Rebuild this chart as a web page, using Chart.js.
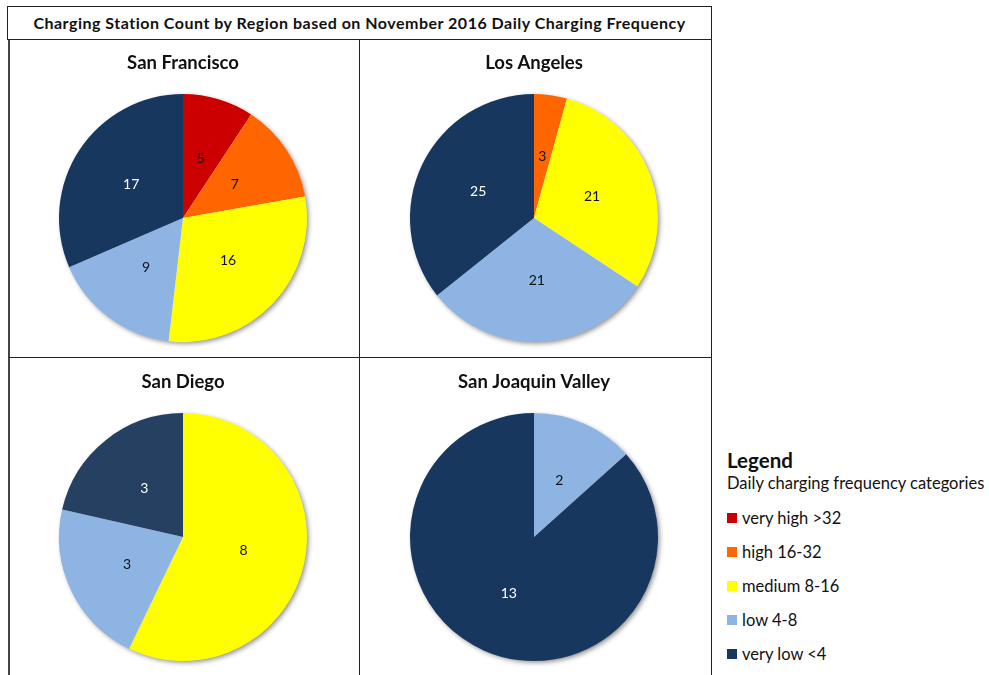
<!DOCTYPE html>
<html>
<head>
<meta charset="utf-8">
<script src="https://cdn.jsdelivr.net/npm/chart.js@4"></script>
<style>
  html, body { margin:0; padding:0; background:#fff; width:989px; height:675px; overflow:hidden; font-family: Lato, "Open Sans", sans-serif; }
  #title { position:absolute; left:7px; top:6px; width:703px; height:32px; border:1.5px solid #222; box-sizing:content-box;
           font-weight:bold; font-size:16px; letter-spacing:0.5px; text-align:center; line-height:32px; color:#111; }
  .cell { position:absolute; width:352px; height:318px; box-sizing:border-box; }
  #c0 { left:8px; top:40px; border-left:2px solid #444; border-right:1px solid #222; border-bottom:1px solid #222; }
  #c1 { left:360px; top:40px; border-right:1.5px solid #222; border-bottom:1px solid #222; }
  #c2 { left:8px; top:358px; border-left:2px solid #444; border-right:1px solid #222; }
  #c3 { left:360px; top:358px; border-right:1.5px solid #222; }
  .cell canvas { position:absolute; top:0; }
  #c0 canvas, #c2 canvas { left:-3px; }
  #c1 canvas, #c3 canvas { left:-2px; }
  #c2 canvas, #c3 canvas { top:1px; }
  #legend { position:absolute; left:727px; top:448px; color:#111; }
  #legend .h { font-weight:bold; font-size:20.5px; line-height:25px; }
  #legend .s { font-size:16.5px; line-height:20px; margin-bottom:8px; }
  #legend .it { font-size:16.5px; height:34px; line-height:20px; display:flex; align-items:center; }
  #legend .sw { width:10px; height:10px; margin-right:5px; display:inline-block; }
</style>
</head>
<body>
<div id="title">Charging Station Count by Region based on November 2016 Daily Charging Frequency</div>
<div class="cell" id="c0"></div>
<div class="cell" id="c1"></div>
<div class="cell" id="c2"></div>
<div class="cell" id="c3"></div>
<div id="legend">
  <div class="h">Legend</div>
  <div class="s">Daily charging frequency categories</div>
  <div id="items"></div>
</div>
<script>
// ---- data ----
const categories = ["very high >32", "high 16-32", "medium 8-16", "low 4-8", "very low <4"];
const regions = ["San Francisco", "Los Angeles", "San Diego", "San Joaquin Valley"];
const sanFrancisco = [5, 7, 16, 9, 17];
const losAngeles = [0, 3, 21, 21, 25];
const sanDiego = [0, 0, 8, 3, 3];
const sanJoaquinValley = [0, 0, 0, 2, 13];
const regionValues = [sanFrancisco, losAngeles, sanDiego, sanJoaquinValley];

// ---- styles ----
const palette = ["#CC0000", "#FF6600", "#FFFF00", "#8EB4E3", "#17375E"];
const paletteSD = ["#CC0000", "#FF6600", "#FFFF00", "#8EB4E3", "#254061"];
const labelColors = ["#111", "#111", "#111", "#111", "#fff"];

// legend
const items = document.getElementById('items');
categories.forEach((c, i) => {
  const d = document.createElement('div');
  d.className = 'it';
  d.innerHTML = '<span class="sw" style="background:' + palette[i] + '"></span>' + c;
  items.appendChild(d);
});

const shadowPlugin = {
  id: 'pieShadow',
  beforeDatasetsDraw(chart) {
    const meta = chart.getDatasetMeta(0);
    const arc = meta.data[0];
    if (!arc) return;
    const ctx = chart.ctx;
    ctx.save();
    ctx.shadowColor = 'rgba(0,0,0,0.45)';
    ctx.shadowBlur = 5;
    ctx.shadowOffsetX = 2;
    ctx.shadowOffsetY = 2;
    ctx.fillStyle = '#fff';
    ctx.beginPath();
    ctx.arc(arc.x, arc.y, arc.outerRadius - 0.5, 0, Math.PI * 2);
    ctx.fill();
    ctx.restore();
  }
};

const labelPlugin = {
  id: 'sliceLabels',
  afterDatasetsDraw(chart) {
    const ctx = chart.ctx;
    const ds = chart.data.datasets[0];
    const meta = chart.getDatasetMeta(0);
    ctx.save();
    ctx.font = '14px Lato, "Open Sans", sans-serif';
    ctx.textAlign = 'center';
    ctx.textBaseline = 'middle';
    meta.data.forEach((arc, i) => {
      const v = ds.data[i];
      if (!v) return;
      const p = arc.getCenterPoint();
      ctx.fillStyle = labelColors[i];
      ctx.fillText(String(v), p.x, p.y);
    });
    ctx.restore();
  }
};

regions.forEach((name, idx) => {
  const cell = document.getElementById('c' + idx);
  const cv = document.createElement('canvas');
  cv.width = 352; cv.height = 318;
  cell.appendChild(cv);
  new Chart(cv, {
    type: 'pie',
    data: {
      labels: categories,
      datasets: [{
        data: regionValues[idx],
        backgroundColor: idx === 2 ? paletteSD : palette,
        borderWidth: 0,
        radius: 124
      }]
    },
    options: {
      responsive: false,
      animation: false,
      layout: { padding: { top: 0, bottom: 16, left: 0, right: 0 } },
      plugins: {
        legend: { display: false },
        tooltip: { enabled: false },
        title: {
          display: true,
          text: name,
          color: '#111',
          font: { family: 'Lato, "Open Sans", sans-serif', size: 18.5, weight: 'bold' },
          padding: { top: 12, bottom: 20 }
        }
      }
    },
    plugins: [shadowPlugin, labelPlugin]
  });
});
</script>
</body>
</html>
